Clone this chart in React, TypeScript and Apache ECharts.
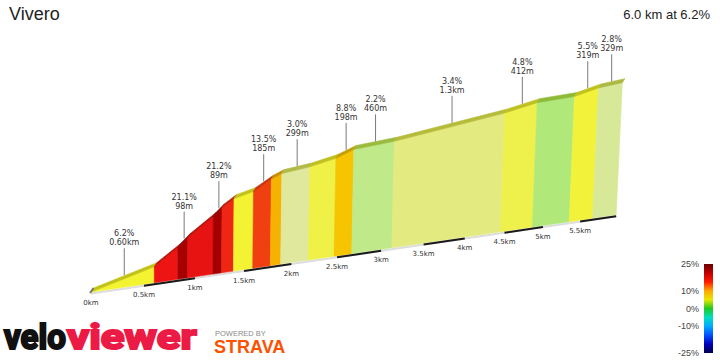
import React, { useEffect, useRef } from 'react';
import * as echarts from 'echarts';

// ---- data ----
const boundaryKm = [0, 0.6, 0.83, 0.928, 1.18, 1.269, 1.39, 1.59, 1.775, 1.885, 2.184, 2.467, 2.665, 3.125, 4.45, 4.862, 5.352, 5.671, 6.0];
const elevationM = [0, 37.2, 74.0, 94.7, 136.3, 155.2, 173.4, 185.4, 210.4, 220.9, 229.9, 244.1, 261.5, 271.6, 316.7, 336.5, 343.9, 361.4, 370.6];
const gradientPct = [6.2, 16, 21.1, 16.5, 21.2, 15, 6, 13.5, 9.5, 3.0, 5, 8.8, 2.2, 3.4, 4.8, 1.5, 5.5, 2.8];
const sectionGrade = ['6.2%', '', '21.1%', '', '21.2%', '', '', '13.5%', '', '3.0%', '', '8.8%', '2.2%', '3.4%', '4.8%', '', '5.5%', '2.8%'];
const sectionLength = ['0.60km', '', '98m', '', '89m', '', '', '185m', '', '299m', '', '198m', '460m', '1.3km', '412m', '', '319m', '329m'];
const tickKm = [0, 0.5, 1, 1.5, 2, 2.5, 3, 3.5, 4, 4.5, 5, 5.5];
const tickLabels = ['0km', '0.5km', '1km', '1.5km', '2km', '2.5km', '3km', '3.5km', '4km', '4.5km', '5km', '5.5km'];
const legendValues = [25, 10, 0, -10, -25];
const legendLabels = ['25%', '10%', '0%', '-10%', '-25%'];
const climbName = 'Vivero';

// ---- styling / projection ----
const GRID_LEFT = 91;
const HSCALE = 1.125;
const PERSP = 0.000406;
const BASE_SLOPE = 0.147;
const LEAN = 0.0001;
const LEAN_ORIGIN = 59;
const DEPTH = [2.5, -4];

const faceStops: [number, string][] = [
  [-25, '#000050'], [-10, '#00b0ff'], [0, '#a4e272'], [1.5, '#b0e87a'], [2.2, '#c0ea8a'],
  [3.0, '#dfe89c'], [3.4, '#e3ea80'], [4.8, '#eef04c'], [5.5, '#f2f23a'], [7, '#f6f428'],
  [8.8, '#f6c400'], [9.5, '#f6b200'], [13.5, '#f04012'], [16, '#ee1414'], [21, '#a80000'], [25, '#700000'],
];

function hexToRgb(h: string) {
  const n = parseInt(h.slice(1), 16);
  return [(n >> 16) & 255, (n >> 8) & 255, n & 255];
}
function rgbStr(c: number[]) {
  return 'rgb(' + c.map((v) => Math.max(0, Math.min(255, Math.round(v)))).join(',') + ')';
}
function faceRgb(g: number) {
  if (g <= faceStops[0][0]) return hexToRgb(faceStops[0][1]);
  for (let i = 1; i < faceStops.length; i++) {
    if (g <= faceStops[i][0]) {
      const [g0, c0] = faceStops[i - 1];
      const [g1, c1] = faceStops[i];
      const t = (g - g0) / (g1 - g0);
      const a = hexToRgb(c0), b = hexToRgb(c1);
      return a.map((v, k) => v + (b[k] - v) * t);
    }
  }
  return hexToRgb(faceStops[faceStops.length - 1][1]);
}

function makeProjector(api: any) {
  const o = api.coord([0, 0]);
  return (km: number, elev: number) => {
    const p = api.coord([km, elev]);
    const dx = p[0] - o[0];
    const s = 1 / (1 + PERSP * dx);
    const xb = o[0] + HSCALE * dx * s;
    const h = (o[1] - p[1]) * s;
    const yb = o[1] - BASE_SLOPE * (xb - o[0]);
    return [xb + h * LEAN * (xb - o[0] - LEAN_ORIGIN), yb - h];
  };
}

const segData = gradientPct.map((g, i) => [boundaryKm[i], boundaryKm[i + 1], elevationM[i], elevationM[i + 1], g]);
const totalKm = boundaryKm[boundaryKm.length - 1];
const avgGrade = (elevationM[elevationM.length - 1] / (totalKm * 1000)) * 100;

export default function App() {
  const ref = useRef<HTMLDivElement>(null);
  useEffect(() => {
    if (!ref.current) return;
    const chart = echarts.init(ref.current, undefined, { renderer: 'svg' });

    const legendTop = 264, legendH = 89;
    const legendY = (v: number) => legendTop + ((25 - v) / 50) * legendH;

    const option: any = {
      animation: false,
      backgroundColor: '#ffffff',
      grid: { left: GRID_LEFT, top: 116, width: 576, height: 176 },
      xAxis: { type: 'value', min: 0, max: 6, show: false },
      yAxis: { type: 'value', min: 0, max: 400, show: false },
      series: [
        {
          type: 'custom',
          coordinateSystem: 'cartesian2d',
          data: segData,
          z: 2,
          renderItem: (params: any, api: any) => {
            const proj = makeProjector(api);
            const a = api.value(0), b = api.value(1), ea = api.value(2), eb = api.value(3), g = api.value(4);
            const A0 = proj(a, 0), B0 = proj(b, 0), A1 = proj(a, ea), B1 = proj(b, eb);
            const A2 = [A1[0] + DEPTH[0], A1[1] + DEPTH[1]];
            const B2 = [B1[0] + DEPTH[0], B1[1] + DEPTH[1]];
            const rgb = faceRgb(g);
            const col = rgbStr(rgb);
            const dark = rgbStr([rgb[0] * 0.8, rgb[1] * 0.8, rgb[2] * 0.45]);
            const children: any[] = [
              { type: 'line', shape: { x1: A0[0], y1: A0[1] + 1.5, x2: B0[0], y2: B0[1] + 1.5 }, style: { stroke: '#dcdcdc', lineWidth: 2 } },
              { type: 'polygon', shape: { points: [A0, B0, B1, A1] }, style: { fill: col, stroke: col, lineWidth: 0.6 } },
              { type: 'polygon', shape: { points: [A1, B1, B2, A2] }, style: { fill: dark, stroke: dark, lineWidth: 0.6 } },
            ];
            if (params.dataIndex === 0) {
              children.push({ type: 'line', shape: { x1: A0[0] - 1, y1: A0[1] + 1, x2: A0[0] + DEPTH[0], y2: A0[1] + DEPTH[1] }, style: { stroke: '#777', lineWidth: 2 } });
            }
            return { type: 'group', children };
          },
        },
        {
          type: 'custom',
          coordinateSystem: 'cartesian2d',
          data: tickKm.map((k) => [k, 0]),
          z: 3,
          renderItem: (params: any, api: any) => {
            const proj = makeProjector(api);
            const idx = params.dataIndex;
            const km = api.value(0);
            const P = proj(km, 0);
            const children: any[] = [
              { type: 'text', x: P[0], y: P[1] + 11, style: { text: tickLabels[idx], fill: '#333', fontSize: 7, fontFamily: 'DejaVu Sans', align: 'center', verticalAlign: 'middle' } },
            ];
            if (idx % 2 === 1) {
              const next = idx + 1 < tickKm.length ? tickKm[idx + 1] : totalKm;
              const Q = proj(next, 0);
              children.unshift({ type: 'line', shape: { x1: P[0], y1: P[1] + 1.5, x2: Q[0], y2: Q[1] + 1.5 }, style: { stroke: '#1a1a1a', lineWidth: 2 } });
            }
            return { type: 'group', children };
          },
        },
        {
          type: 'custom',
          coordinateSystem: 'cartesian2d',
          data: segData,
          z: 4,
          renderItem: (params: any, api: any) => {
            const i = params.dataIndex;
            if (!sectionGrade[i]) return { type: 'group', children: [] };
            const proj = makeProjector(api);
            const a = api.value(0), b = api.value(1), ea = api.value(2), eb = api.value(3);
            const M = proj((a + b) / 2, (ea + eb) / 2);
            const x = M[0] + DEPTH[0] * 0.5;
            const y = M[1] + DEPTH[1];
            return {
              type: 'group',
              children: [
                { type: 'line', shape: { x1: x, y1: y, x2: x, y2: y - 27 }, style: { stroke: '#7a7a7a', lineWidth: 1 } },
                { type: 'text', x: x, y: y - 28, style: { text: sectionGrade[i] + '\n' + sectionLength[i], fill: '#333', fontSize: 8, lineHeight: 9, fontFamily: 'DejaVu Sans', align: 'center', verticalAlign: 'bottom' } },
              ],
            };
          },
        },
      ],
      graphic: [
        { type: 'text', x: 9, y: 14, style: { text: climbName, fill: '#222', fontSize: 18, fontFamily: 'Liberation Sans', verticalAlign: 'middle' } },
        { type: 'text', x: 710, y: 14, style: { text: totalKm.toFixed(1) + ' km at ' + avgGrade.toFixed(1) + '%', fill: '#222', fontSize: 13, fontFamily: 'Liberation Sans', align: 'right', verticalAlign: 'middle' } },
        {
          type: 'rect',
          shape: { x: 704, y: legendTop, width: 9, height: legendH },
          style: {
            fill: new echarts.graphic.LinearGradient(0, 0, 0, 1, [
              { offset: 0, color: '#6b0000' }, { offset: 0.1, color: '#c00000' }, { offset: 0.2, color: '#ff1a00' },
              { offset: 0.3, color: '#ffa500' }, { offset: 0.4, color: '#e8e800' }, { offset: 0.5, color: '#1ec81e' },
              { offset: 0.6, color: '#00e0c0' }, { offset: 0.7, color: '#00a8ff' }, { offset: 0.8, color: '#0050ff' },
              { offset: 0.9, color: '#0000c0' }, { offset: 1, color: '#00004a' },
            ]),
          },
        },
        ...legendValues.map((v, i) => ({
          type: 'text', x: 699, y: legendY(v),
          style: { text: legendLabels[i], fill: '#444', fontSize: 9, fontFamily: 'Liberation Sans', align: 'right', verticalAlign: 'middle' },
        })),
        { type: 'text', x: 4, y: 337, scaleX: 0.92, style: { text: 'velo', fill: '#111', stroke: '#111', lineWidth: 2.2, fontSize: 36, fontWeight: 'bold', fontFamily: 'Roboto', verticalAlign: 'middle' } },
        { type: 'text', x: 67, y: 337, scaleX: 1.22, style: { text: 'viewer', fill: '#ec1b45', stroke: '#ec1b45', lineWidth: 2.2, fontSize: 36, fontWeight: 'bold', fontFamily: 'Roboto', verticalAlign: 'middle' } },
        { type: 'text', x: 215, y: 333, style: { text: 'POWERED BY', fill: '#8a8a8a', fontSize: 7.5, fontFamily: 'Liberation Sans', verticalAlign: 'middle' } },
        { type: 'text', x: 214, y: 347, style: { text: 'STRAVA', fill: '#fc5200', fontSize: 18, fontWeight: 900, fontFamily: 'Liberation Sans', verticalAlign: 'middle' } },
      ],
    };
    chart.setOption(option);
    return () => chart.dispose();
  }, []);
  return <div ref={ref} style={{ position: 'fixed', left: 0, top: 0, width: 720, height: 360 }} />;
}
